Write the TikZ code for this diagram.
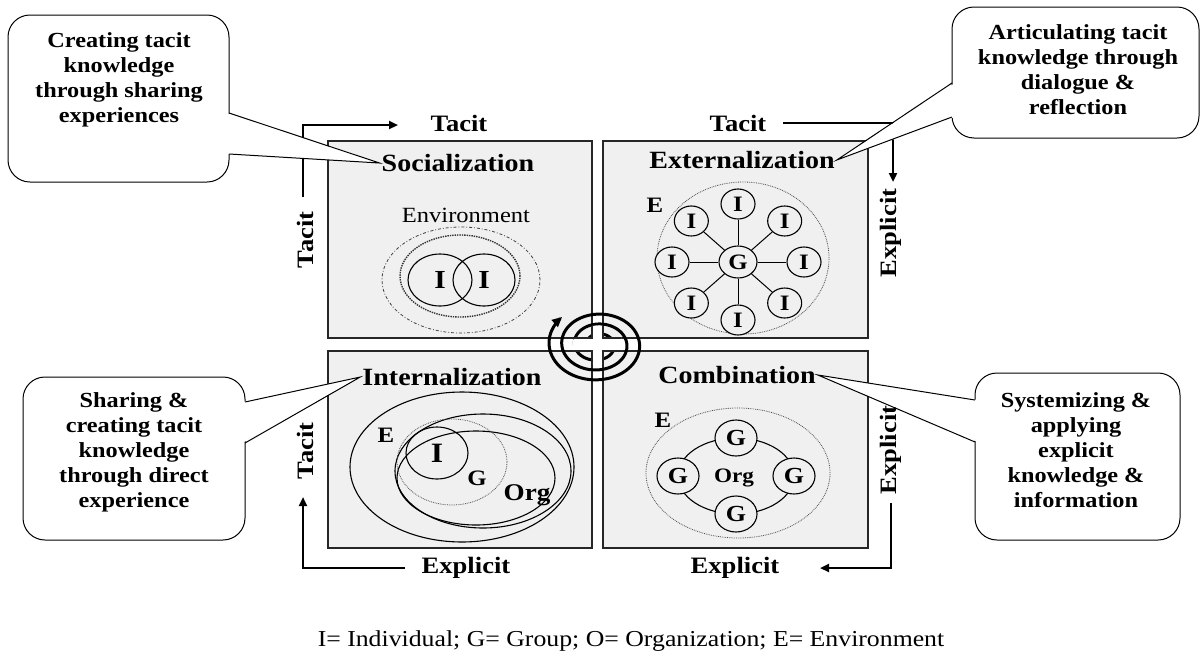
\documentclass[tikz,border=0pt]{standalone}
\usepackage{fontspec}
\setmainfont{Liberation Serif}[FakeStretch=1.13]
\usetikzlibrary{arrows.meta,shapes.geometric}
\newcommand{\setfs}[1]{\fontsize{#1}{#1}\selectfont}
\tikzset{
  quadbox/.style={draw=black!85, line width=1.3pt, fill=black!6, inner sep=0pt, outer sep=0pt, minimum width=264pt, minimum height=197pt},
  title/.style={font=\bfseries\setfs{24.8}, inner sep=2pt},
  axis/.style={font=\bfseries\setfs{23.5}, inner sep=1pt},
  flow/.style={line width=2.2pt, -{Triangle[length=9pt,width=8pt]}},
  callbox/.style={draw, line width=1pt, fill=white, rounded corners=22pt, inner sep=0pt},
  calltext/.style={font=\bfseries\fontsize{21.5}{25}\selectfont, align=center},
  tail/.style={line width=1pt},
  member/.style={draw, ellipse, line width=1.1pt, inner sep=0pt, fill=black!6, font=\bfseries\setfs{22}},
  envring/.style={draw=black!70, line width=0.8pt, densely dotted},
  ring/.style={draw, line width=1.1pt},
}
\begin{document}
\begin{tikzpicture}[x=1pt,y=-1pt]
\fill[white] (0,0) rectangle (1202,654);
\useasboundingbox (0,0) rectangle (1202,654);

\node[quadbox] (sbox) at (460,239.5) {};
\node[quadbox, minimum width=265pt] (ebox) at (735.5,239.5) {};
\node[quadbox] (ibox) at (460,449.5) {};
\node[quadbox, minimum width=265pt] (cbox) at (735.5,449.5) {};

\draw[line width=3pt, -{Triangle[length=10pt,width=9pt]}]
  plot[domain=-135:945, samples=240, smooth, variable=\t]
  ({597.5+(12+0.0352*(\t+135))*cos(\t)}, {344.5+0.78*(12+0.0352*(\t+135))*sin(\t)});
\begin{scope}
\clip (597.5,344.5) ellipse (25pt and 19pt);
\fill[white] (592,300) rectangle (603,390);
\fill[white] (540,338) rectangle (655,351);
\draw[line width=1.3pt, black!85] (sbox.north west) rectangle (sbox.south east);
\draw[line width=1.3pt, black!85] (ebox.north west) rectangle (ebox.south east);
\draw[line width=1.3pt, black!85] (ibox.north west) rectangle (ibox.south east);
\draw[line width=1.3pt, black!85] (cbox.north west) rectangle (cbox.south east);
\end{scope}

\node[title] (soc) at (458,163) {Socialization};
\node[title] (ext) at (742,160) {Externalization};
\node[title] (int) at (452,377) {Internalization};
\node[title] (com) at (737,375) {Combination};

\node[font=\setfs{21.7}] (env) at (466,215) {Environment};
\draw[line width=0.8pt, black!75, dash pattern=on 3pt off 2pt on 0.8pt off 2pt] (461,280) ellipse (79pt and 53pt);
\draw[line width=1.4pt, black!80, densely dotted] (460,276) ellipse (60pt and 41pt);
\node[member, fill=none, minimum width=64pt, minimum height=52pt, font=\bfseries\setfs{26}] (s1) at (440,280) {I};
\node[member, fill=none, minimum width=62pt, minimum height=52pt, font=\bfseries\setfs{26}] (s2) at (484,280) {I};

\node[font=\bfseries\setfs{22}] (ee) at (655,205) {E};
\draw[envring] (743,258) ellipse (86pt and 76pt);
\node[member, minimum width=38pt, minimum height=32pt] (g) at (738,262) {G};
\foreach \a [count=\k] in {0,45,...,315}
  \node[member, minimum width=34pt, minimum height=30pt] (i\k) at ({738+66*cos(\a)},{262+58*sin(\a)}) {I};
\foreach \k in {1,...,8}
  \path[draw,line width=1pt] (g) -- (i\k);

\node[font=\bfseries\setfs{22}] (ce) at (663,420) {E};
\draw[envring] (738,473) ellipse (92pt and 65pt);
\draw[ring] (736,476) ellipse (58pt and 38pt);
\node[member, minimum width=42pt, minimum height=36pt, font=\bfseries\setfs{23}] (gt) at (736,438) {G};
\node[member, minimum width=42pt, minimum height=36pt, font=\bfseries\setfs{23}] (gl) at (678,476) {G};
\node[member, minimum width=42pt, minimum height=36pt, font=\bfseries\setfs{23}] (gr) at (794,476) {G};
\node[member, minimum width=42pt, minimum height=36pt, font=\bfseries\setfs{23}] (gb) at (736,514) {G};
\node[font=\bfseries\setfs{20.5}] (corg) at (734,478) {Org};

\draw[ring] (462,467) ellipse (112pt and 75pt);
\draw[ring] (483,471) ellipse (88pt and 57pt);
\draw[ring] (476,478) ellipse (79pt and 47pt);
\draw[envring] (452,462) ellipse (55pt and 43pt);
\node[member, fill=none, minimum width=62pt, minimum height=52pt, font=\bfseries\setfs{28}] (ii) at (437,453) {I};
\node[font=\bfseries\setfs{22}] (ie) at (386,435) {E};
\node[font=\bfseries\setfs{22}] (ig) at (477,478) {G};
\node[font=\bfseries\setfs{24}] (iorg) at (527,495) {Org};

\node[axis] (tac1) at (459,123) {Tacit};
\node[axis] (tac2) at (738,123) {Tacit};
\node[axis, rotate=90] (tac3) at (305,240) {Tacit};
\node[axis, rotate=90] (tac4) at (305,451) {Tacit};
\node[axis, rotate=90] (exp1) at (891,233) {Explicit};
\node[axis, rotate=90] (exp2) at (891,450) {Explicit};
\node[axis] (exp3) at (735,568) {Explicit};
\node[axis] (exp4) at (466,568) {Explicit};

\coordinate (a1s) at (303,197);
\coordinate (a1e) at (398,125);
\coordinate (a2s) at (783,123);
\coordinate (a2e) at (893,182);
\coordinate (a3s) at (891,503);
\coordinate (a3e) at (820,568);
\coordinate (a4s) at (405,568);
\coordinate (a4e) at (303,497);
\draw[flow] (a1s) |- (a1e);
\draw[flow] (a2s) -| (a2e);
\draw[flow] (a3s) |- (a3e);
\draw[flow] (a4s) -| (a4e);

\node[callbox, minimum width=221pt, minimum height=167pt] (cb1) at (118.5,98.5) {};
\node[calltext] (ct1) at (119,80) {Creating tacit\\knowledge\\through sharing\\experiences};
\coordinate (t1a) at (229,113);
\coordinate (t1b) at (229,154);
\fill[white] ([xshift=-3pt]t1a) -- (soc.west) -- ([xshift=-3pt]t1b) -- cycle;
\draw[tail] (t1a) -- (soc.west) -- (t1b);

\node[callbox, minimum width=247pt, minimum height=131pt] (cb2) at (1075.5,72.5) {};
\node[calltext] (ct2) at (1078,69.5) {Articulating tacit\\knowledge through\\dialogue \&\\reflection};
\coordinate (t2a) at (952,83);
\coordinate (t2b) at (952,117);
\fill[white] ([xshift=3pt]t2a) -- (ext.east) -- ([xshift=3pt]t2b) -- cycle;
\draw[tail] (t2a) -- (ext.east) -- (t2b);

\node[callbox, minimum width=222pt, minimum height=163pt] (cb3) at (134,458.5) {};
\node[calltext] (ct3) at (134,452) {Sharing \&\\creating tacit\\knowledge\\through direct\\experience};
\coordinate (t3a) at (245,402);
\coordinate (t3b) at (245,443);
\fill[white] ([xshift=-3pt]t3a) -- (int.west) -- ([xshift=-3pt]t3b) -- cycle;
\draw[tail] (t3a) -- (int.west) -- (t3b);

\node[callbox, minimum width=205pt, minimum height=167pt] (cb4) at (1077.5,456.5) {};
\node[calltext] (ct4) at (1076,450) {Systemizing \&\\applying\\explicit\\knowledge \&\\information};
\coordinate (t4a) at (975,400);
\coordinate (t4b) at (975,442);
\fill[white] ([xshift=3pt]t4a) -- (com.east) -- ([xshift=3pt]t4b) -- cycle;
\draw[tail] (t4a) -- (com.east) -- (t4b);

\node[font=\setfs{22.8}] (key) at (631,641) {I= Individual; G= Group; O= Organization; E= Environment};
\end{tikzpicture}
\end{document}
